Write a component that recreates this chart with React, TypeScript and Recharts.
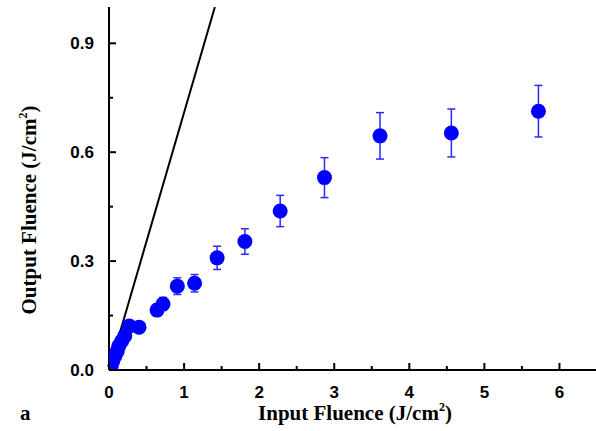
import * as React from "react";
import {
  ScatterChart,
  Scatter,
  XAxis,
  YAxis,
  ErrorBar,
  Label,
} from "recharts";

// measured points
const inputFluence = [
  0.03, 0.05, 0.08, 0.11, 0.13, 0.17, 0.21, 0.27, 0.4, 0.64, 0.72, 0.91, 1.14,
  1.44, 1.81, 2.28, 2.87, 3.61, 4.56, 5.72,
];
const outputFluence = [
  0.012, 0.025, 0.039, 0.052, 0.066, 0.08, 0.094, 0.121, 0.118, 0.165, 0.182,
  0.231, 0.239, 0.309, 0.354, 0.438, 0.53, 0.645, 0.653, 0.713,
];
const outputError = [
  0.001, 0.002, 0.004, 0.005, 0.007, 0.008, 0.009, 0.012, 0.012, 0.016, 0.018,
  0.023, 0.024, 0.032, 0.035, 0.043, 0.055, 0.064, 0.066, 0.071,
];

// linear (unsaturated) reference
const lineX = [0, 1.41];
const lineY = [0, 1.0];

const xTicks = [0, 0.5, 1, 1.5, 2, 2.5, 3, 3.5, 4, 4.5, 5, 5.5, 6];
const yTicks = [0, 0.15, 0.3, 0.45, 0.6, 0.75, 0.9];
const xMajor = [0, 1, 2, 3, 4, 5, 6];
const yMajor = [0, 0.3, 0.6, 0.9];

const points = inputFluence.map((x, i) => ({
  x,
  y: outputFluence[i],
  err: outputError[i],
}));
const linePoints = lineX.map((x, i) => ({ x, y: lineY[i] }));

const tickFont = "'Liberation Sans', Arial, sans-serif";
const titleFont = "'Liberation Serif', 'Times New Roman', serif";

const isMajor = (list: number[], v: number) =>
  list.some((m) => Math.abs(m - v) < 1e-6);

const BottomTick = (props: any) => {
  const { x, y, payload } = props;
  const major = isMajor(xMajor, payload.value);
  return (
    <g>
      <line x1={x} x2={x} y1={y} y2={y - (major ? 7 : 4)} stroke="#000" strokeWidth={2} />
      {major && (
        <text
          x={x}
          y={y + 28}
          textAnchor="middle"
          fontFamily={tickFont}
          fontWeight="bold"
          fontSize={17}
          fill="#000"
        >
          {payload.value}
        </text>
      )}
    </g>
  );
};

const TopTick = (props: any) => {
  const { x, y, payload } = props;
  const major = isMajor(xMajor, payload.value);
  return <line x1={x} x2={x} y1={y} y2={y + (major ? 7 : 4)} stroke="#000" strokeWidth={2} />;
};

const LeftTick = (props: any) => {
  const { x, y, payload } = props;
  const major = isMajor(yMajor, payload.value);
  return (
    <g>
      <line x1={x} x2={x + (major ? 7 : 4)} y1={y} y2={y} stroke="#000" strokeWidth={2} />
      {major && (
        <text
          x={x - 15}
          y={y + 6}
          textAnchor="end"
          fontFamily={tickFont}
          fontWeight="bold"
          fontSize={17}
          fill="#000"
        >
          {payload.value.toFixed(1)}
        </text>
      )}
    </g>
  );
};

const RightTick = (props: any) => {
  const { x, y, payload } = props;
  const major = isMajor(yMajor, payload.value);
  return <line x1={x} x2={x - (major ? 7 : 4)} y1={y} y2={y} stroke="#000" strokeWidth={2} />;
};

const XTitle = () => (
  <g>
    <text x={20} y={420} fontFamily={titleFont} fontWeight="bold" fontSize={21} fill="#000">
      a
    </text>
    <text x={355} y={420} textAnchor="middle" fontFamily={titleFont} fontWeight="bold" fontSize={21} fill="#000">
      Input Fluence (J/cm
      <tspan dy={-9} fontSize={12}>2</tspan>
      <tspan dy={9}>)</tspan>
    </text>
  </g>
);

const YTitle = () => (
  <text
    x={0}
    y={0}
    transform="translate(36, 210) rotate(-90)"
    textAnchor="middle"
    fontFamily={titleFont}
    fontWeight="bold"
    fontSize={21}
    fill="#000"
  >
    Output Fluence (J/cm
    <tspan dy={-9} fontSize={12}>2</tspan>
    <tspan dy={9}>)</tspan>
  </text>
);

const Dot = (props: any) => {
  const { cx, cy } = props;
  return <circle cx={cx} cy={cy} r={7.5} fill="#0000ff" />;
};

const NoDot = () => <g />;

export default function App() {
  return (
    <div
      style={{
        position: "absolute",
        left: 0,
        top: 0,
        width: 596,
        height: 431,
        overflow: "hidden",
        background: "#fff",
      }}
    >
      <ScatterChart
        width={600}
        height={431}
        margin={{ top: 7, right: 3, bottom: 0, left: 0 }}
      >
        <XAxis
          xAxisId="b"
          dataKey="x"
          type="number"
          domain={[0, 6.5]}
          ticks={xTicks}
          interval={0}
          height={61}
          tickSize={0}
          tickMargin={0}
          tickLine={false}
          tick={<BottomTick />}
          axisLine={{ stroke: "#000", strokeWidth: 2 }}
          allowDataOverflow
        >
          <Label content={<XTitle />} />
        </XAxis>
        <XAxis
          xAxisId="t"
          orientation="top"
          type="number"
          domain={[0, 6.5]}
          ticks={xTicks}
          interval={0}
          height={0}
          tickSize={0}
          tickMargin={0}
          tickLine={false}
          tick={<TopTick />}
          axisLine={{ stroke: "#000", strokeWidth: 1.5 }}
        />
        <YAxis
          yAxisId="l"
          dataKey="y"
          type="number"
          domain={[0, 1]}
          ticks={yTicks}
          interval={0}
          width={109}
          tickSize={0}
          tickMargin={0}
          tickLine={false}
          tick={<LeftTick />}
          axisLine={{ stroke: "#000", strokeWidth: 2 }}
          allowDataOverflow
        >
          <Label content={<YTitle />} />
        </YAxis>
        <YAxis
          yAxisId="r"
          orientation="right"
          type="number"
          domain={[0, 1]}
          ticks={yTicks}
          interval={0}
          width={0}
          tickSize={0}
          tickMargin={0}
          tickLine={false}
          tick={<RightTick />}
          axisLine={{ stroke: "#000", strokeWidth: 2 }}
        />
        <Scatter
          xAxisId="b"
          yAxisId="l"
          data={linePoints}
          line={{ stroke: "#000", strokeWidth: 2 }}
          shape={<NoDot />}
          isAnimationActive={false}
        />
        <Scatter
          xAxisId="b"
          yAxisId="l"
          data={points}
          shape={<Dot />}
          fill="#0000ff"
          isAnimationActive={false}
        >
          <ErrorBar dataKey="err" direction="y" width={4} stroke="#2a2aff" strokeWidth={1.5} />
        </Scatter>
      </ScatterChart>
    </div>
  );
}
